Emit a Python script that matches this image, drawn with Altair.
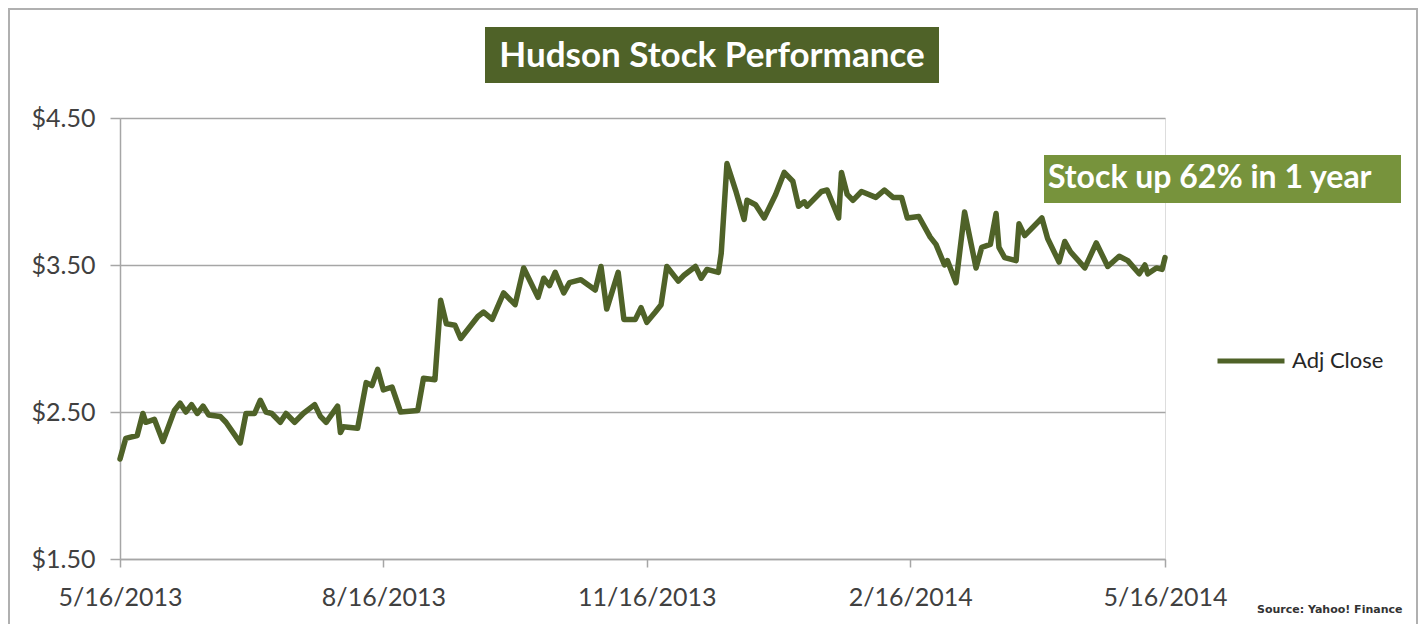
import altair as alt
import pandas as pd

dates = [
    "2013-05-16", "2013-05-18", "2013-05-22", "2013-05-24", "2013-05-25", "2013-05-28",
    "2013-05-31", "2013-06-04", "2013-06-06", "2013-06-08", "2013-06-10", "2013-06-12",
    "2013-06-14", "2013-06-16", "2013-06-20", "2013-06-22", "2013-06-27", "2013-06-29",
    "2013-07-02", "2013-07-04", "2013-07-06", "2013-07-08", "2013-07-11", "2013-07-13",
    "2013-07-16", "2013-07-19", "2013-07-23", "2013-07-25", "2013-07-27", "2013-07-31",
    "2013-08-01", "2013-08-02", "2013-08-07", "2013-08-10", "2013-08-12", "2013-08-14",
    "2013-08-16", "2013-08-19", "2013-08-22", "2013-08-28", "2013-08-30", "2013-09-03",
    "2013-09-05", "2013-09-07", "2013-09-10", "2013-09-12", "2013-09-18", "2013-09-20",
    "2013-09-23", "2013-09-27", "2013-10-01", "2013-10-04", "2013-10-09", "2013-10-11",
    "2013-10-13", "2013-10-15", "2013-10-18", "2013-10-20", "2013-10-24", "2013-10-29",
    "2013-10-31", "2013-11-02", "2013-11-06", "2013-11-08", "2013-11-12", "2013-11-14",
    "2013-11-16", "2013-11-19", "2013-11-21", "2013-11-23", "2013-11-27", "2013-11-29",
    "2013-12-03", "2013-12-05", "2013-12-07", "2013-12-11", "2013-12-12", "2013-12-14",
    "2013-12-17", "2013-12-20", "2013-12-21", "2013-12-24", "2013-12-27", "2013-12-31",
    "2014-01-03", "2014-01-06", "2014-01-08", "2014-01-10", "2014-01-11", "2014-01-16",
    "2014-01-18", "2014-01-22", "2014-01-23", "2014-01-25", "2014-01-27", "2014-01-30",
    "2014-02-04", "2014-02-07", "2014-02-10", "2014-02-13", "2014-02-15", "2014-02-19",
    "2014-02-23", "2014-02-25", "2014-02-28", "2014-03-01", "2014-03-04", "2014-03-07",
    "2014-03-11", "2014-03-13", "2014-03-16", "2014-03-18", "2014-03-19", "2014-03-21",
    "2014-03-25", "2014-03-26", "2014-03-28", "2014-04-03", "2014-04-05", "2014-04-09",
    "2014-04-11", "2014-04-13", "2014-04-18", "2014-04-22", "2014-04-26", "2014-04-30",
    "2014-05-03", "2014-05-07", "2014-05-09", "2014-05-10", "2014-05-13", "2014-05-15",
    "2014-05-16",
]

adj_close = [
    2.18, 2.32, 2.34, 2.49, 2.43, 2.45,
    2.30, 2.51, 2.56, 2.50, 2.55, 2.49,
    2.54, 2.48, 2.47, 2.43, 2.29, 2.49,
    2.49, 2.58, 2.50, 2.49, 2.43, 2.49,
    2.43, 2.49, 2.55, 2.47, 2.43, 2.54,
    2.36, 2.40, 2.39, 2.70, 2.68, 2.79,
    2.65, 2.67, 2.50, 2.51, 2.73, 2.72,
    3.26, 3.10, 3.09, 3.00, 3.15, 3.18,
    3.13, 3.31, 3.23, 3.48, 3.28, 3.41,
    3.36, 3.45, 3.31, 3.38, 3.40, 3.33,
    3.49, 3.20, 3.45, 3.13, 3.13, 3.21,
    3.11, 3.18, 3.23, 3.49, 3.39, 3.43,
    3.49, 3.41, 3.47, 3.45, 3.58, 4.19,
    4.01, 3.81, 3.94, 3.91, 3.82, 3.98,
    4.13, 4.07, 3.90, 3.93, 3.90, 4.00,
    4.01, 3.82, 4.13, 3.98, 3.94, 4.00,
    3.96, 4.01, 3.96, 3.96, 3.82, 3.83,
    3.69, 3.64, 3.50, 3.53, 3.38, 3.86,
    3.48, 3.62, 3.64, 3.85, 3.62, 3.55,
    3.53, 3.78, 3.70, 3.82, 3.68, 3.52,
    3.66, 3.59, 3.48, 3.65, 3.49, 3.56,
    3.53, 3.44, 3.50, 3.44, 3.48, 3.47,
    3.55,
]

series_name = "Adj Close"
y_ticks = [1.5, 2.5, 3.5, 4.5]
x_tick_dates = [(2013, 5, 16), (2013, 8, 16), (2013, 11, 16), (2014, 2, 16), (2014, 5, 16)]
title_text = "Hudson Stock Performance"
note_text = "Stock up 62% in 1 year"
source_text = "Source: Yahoo! Finance"

DARK_GREEN = "#4F6228"
LIGHT_GREEN = "#77933C"
GRID = "#A6A6A6"
LABEL = "#404040"
FONT = "Lato"

df = pd.DataFrame({"date": dates, "price": adj_close, "series": series_name})
one = pd.DataFrame({"k": [0]})

def dt(t):
    return alt.DateTime(year=t[0], month=t[1], date=t[2], utc=True)

x_enc = alt.X(
    "date:T",
    scale=alt.Scale(type="utc", domain=[dt(x_tick_dates[0]), dt(x_tick_dates[-1])], nice=False),
    axis=alt.Axis(
        values=[dt(t) for t in x_tick_dates],
        format="%-m/%-d/%Y",
        grid=False,
        tickSize=8,
        tickColor=GRID,
        tickWidth=1.5,
        domainColor=GRID,
        domainWidth=1.5,
        labelFont=FONT,
        labelFontSize=25,
        labelColor=LABEL,
        labelPadding=18,
        labelFlush=False,
        labelOverlap=False,
        title=None,
    ),
)
y_enc = alt.Y(
    "price:Q",
    scale=alt.Scale(domain=[1.5, 4.5], nice=False, zero=False),
    axis=alt.Axis(
        values=y_ticks,
        format="$.2f",
        grid=True,
        gridColor=GRID,
        gridWidth=1.5,
        tickSize=10,
        tickColor=GRID,
        tickWidth=1.5,
        domainColor=GRID,
        domainWidth=1.5,
        labelFont=FONT,
        labelFontSize=25,
        labelColor=LABEL,
        labelPadding=15,
        title=None,
    ),
)

line = alt.Chart(df).mark_line(strokeWidth=5.5, strokeJoin="round", strokeCap="round").encode(
    x=x_enc,
    y=y_enc,
    color=alt.Color(
        "series:N",
        scale=alt.Scale(domain=[series_name], range=[DARK_GREEN]),
        legend=alt.Legend(
            orient="none",
            legendX=1095,
            legendY=207,
            title=None,
            symbolType="stroke",
            symbolSize=4489,
            symbolStrokeWidth=5,
            symbolStrokeColor=DARK_GREEN,
            labelFont=FONT,
            labelFontSize=22,
            labelColor="#262626",
            labelOffset=5,
            padding=0,
        ),
    ),
)

border = alt.Chart(one).mark_rect(fill="transparent", stroke="#B0B0B0", strokeWidth=2).encode(
    x=alt.value(-111), x2=alt.value(1297), y=alt.value(-109), y2=alt.value(540)
)

title_box = alt.Chart(one).mark_rect(fill=DARK_GREEN).encode(
    x=alt.value(365), x2=alt.value(819), y=alt.value(-91), y2=alt.value(-35)
)
title_lbl = alt.Chart(one).mark_text(
    text=title_text, font=FONT, fontSize=35, fontWeight="bold", color="white",
    align="center", baseline="middle",
).encode(x=alt.value(592), y=alt.value(-62))

note_box = alt.Chart(one).mark_rect(fill=LIGHT_GREEN).encode(
    x=alt.value(924), x2=alt.value(1281), y=alt.value(37), y2=alt.value(85)
)
note_lbl = alt.Chart(one).mark_text(
    text=note_text, font=FONT, fontSize=32, fontWeight="bold", color="white",
    align="left", baseline="middle",
).encode(x=alt.value(928), y=alt.value(60))

source_lbl = alt.Chart(one).mark_text(
    text=source_text, font="DejaVu Sans", fontSize=11, fontWeight="bold", color="#333333",
    align="left", baseline="middle",
).encode(x=alt.value(1137), y=alt.value(492))

chart = alt.layer(border, line, title_box, title_lbl, note_box, note_lbl, source_lbl).properties(
    width=1045,
    height=441,
    padding={"left": 112, "top": 110, "right": 253, "bottom": 65},
    autosize=alt.AutoSizeParams(type="none"),
).configure_view(strokeWidth=0).configure(background="white")

chart.save("out.html", embed_options={"renderer": "svg", "actions": False})
